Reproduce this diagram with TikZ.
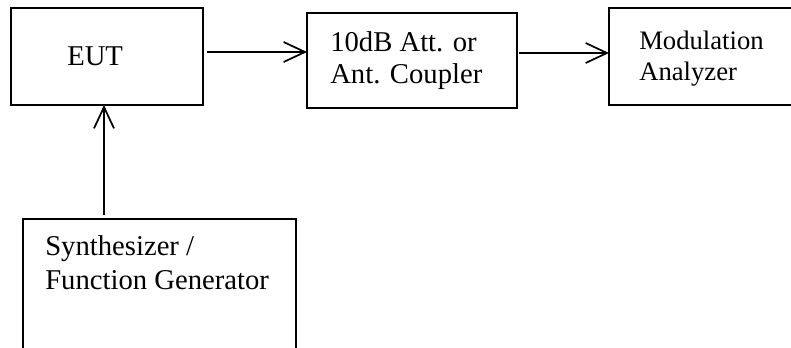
\documentclass[tikz,border=0pt]{standalone}
\usepackage{fontspec}
\setmainfont{Liberation Serif}
\usetikzlibrary{arrows.meta,fit}
\begin{document}
\begin{tikzpicture}[x=0.75pt,y=-0.75pt,
  box/.style={draw,line width=1.3pt,inner sep=0pt,outer sep=0pt},
  lbl/.style={anchor=base west,inner sep=0pt,font=\fontsize{21.5}{24.8}\selectfont},
  slbl/.style={anchor=base west,inner sep=0pt,font=\fontsize{20}{23.2}\selectfont},
  conn/.style={line width=1.3pt,-{Straight Barb[length=16pt,width=15pt,line width=1.3pt]}}]
\useasboundingbox (0,0) rectangle (791,347);
\clip (0,0) rectangle (791,347);
\node[box,fit={(11,8) (203,105)}] (eut) {};
\node[box,fit={(307,13) (517,108)}] (att) {};
\node[box,fit={(609,8) (805,105)}] (mod) {};
\node[box,fit={(23,219) (296,370)}] (syn) {};
\node[lbl] (eutt) at (67,65) {EUT};
\node[lbl] (att1) at (330,51) {10dB Att. or};
\node[lbl] (att2) at (330,83) {Ant. Coupler};
\node[slbl] (mod1) at (639,49) {Modulation};
\node[slbl] (mod2) at (639,80) {Analyzer};
\node[lbl] (syn1) at (45,255) {Synthesizer /};
\node[lbl] (syn2) at (45,289) {Function Generator};
\coordinate (a1) at (207,52);
\coordinate (a2) at (519,53);
\coordinate (a3) at (104,215);
\draw[conn] (a1) -- (a1 -| att.west);
\draw[conn] (a2) -- (a2 -| mod.west);
\draw[conn] (a3) -- (a3 |- eut.south);
\end{tikzpicture}
\end{document}
